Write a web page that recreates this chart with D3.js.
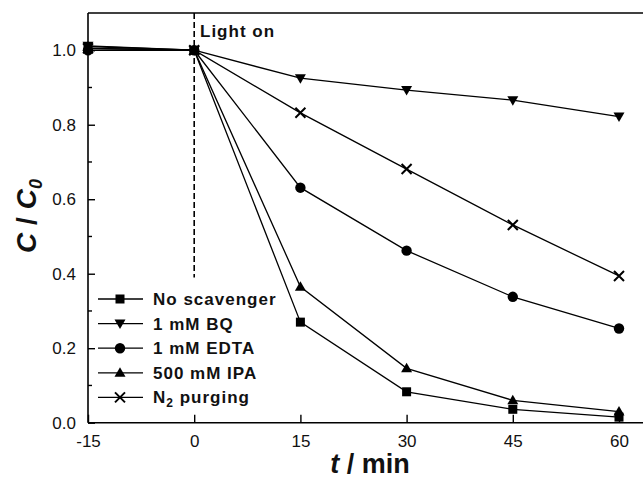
<!DOCTYPE html>
<html><head><meta charset="utf-8">
<script src="https://cdn.jsdelivr.net/npm/d3@7"></script>
<style>body{margin:0;background:#fff}svg{display:block}</style>
</head><body>
<svg id="c" width="643" height="479"></svg>
<script>
const times = [-15, 0, 15, 30, 45, 60];
const noScavenger = [1.005, 1.0, 0.27, 0.083, 0.036, 0.015];
const bq = [1.012, 1.0, 0.925, 0.893, 0.866, 0.822];
const edta = [1.0, 1.0, 0.631, 0.462, 0.338, 0.253];
const ipa = [1.01, 1.0, 0.365, 0.146, 0.06, 0.03];
const n2 = [1.005, 1.0, 0.832, 0.681, 0.531, 0.394];
const seriesNames = ["No scavenger", "1 mM BQ", "1 mM EDTA", "500 mM IPA", "N2 purging"];
const xTicks = [-15, 0, 15, 30, 45, 60];
const yTicks = [0.0, 0.2, 0.4, 0.6, 0.8, 1.0];
const yMinor = [0.1, 0.3, 0.5, 0.7, 0.9];

const series = [
  {name: seriesNames[0], values: noScavenger, sym: "square"},
  {name: seriesNames[1], values: bq, sym: "down"},
  {name: seriesNames[2], values: edta, sym: "circle"},
  {name: seriesNames[3], values: ipa, sym: "up"},
  {name: seriesNames[4], values: n2, sym: "cross"}
];

const svg = d3.select("#c");
const x = d3.scaleLinear().domain([-15, 60]).range([88, 619]);
const y = d3.scaleLinear().domain([0, 1.1]).range([422.7, 13]);
const L = 88, T = 13, B = 422.7, R = 660;
const font = "Arial, 'Liberation Sans', sans-serif";

// frame
svg.append("line").attr("x1", L).attr("x2", R).attr("y1", T).attr("y2", T).attr("stroke", "#000").attr("stroke-width", 1.6);

// dashed light-on line
svg.append("line").attr("x1", x(0)).attr("x2", x(0)).attr("y1", T).attr("y2", y(0.39))
  .attr("stroke", "#000").attr("stroke-width", 1.6).attr("stroke-dasharray", "6,3");

// axes
const yAxis = d3.axisLeft(y).tickValues(yTicks).tickFormat(d3.format(".1f")).tickSizeInner(-7).tickSizeOuter(0).tickPadding(12);
const gy = svg.append("g").attr("transform", `translate(${L},0)`).call(yAxis);
gy.select(".domain").attr("stroke-width", 1.6).attr("d", `M0,${T}V${B}`);
gy.selectAll(".tick line").attr("stroke-width", 1.4);
gy.selectAll("text").attr("font-family", font).attr("font-size", 17).attr("fill", "#111");
gy.selectAll(".minor").data(yMinor).enter().append("line")
  .attr("x1", 0).attr("x2", 4).attr("y1", d => y(d)).attr("y2", d => y(d)).attr("stroke", "#000").attr("stroke-width", 1.4);

const xAxis = d3.axisBottom(x).tickValues(xTicks).tickFormat(d => String(d)).tickSizeInner(-8).tickSizeOuter(0).tickPadding(12);
const gx = svg.append("g").attr("transform", `translate(0,${B})`).call(xAxis);
gx.select(".domain").attr("stroke-width", 1.6).attr("d", `M${L},0H${R}`);
gx.selectAll(".tick line").attr("stroke-width", 1.4);
gx.selectAll("text").attr("font-family", font).attr("font-size", 17).attr("fill", "#111");

// symbols
function drawSym(g, sym, cx, cy) {
  if (sym === "square") {
    g.append("rect").attr("x", cx - 4.5).attr("y", cy - 4.5).attr("width", 9).attr("height", 9).attr("fill", "#000");
  } else if (sym === "circle") {
    g.append("circle").attr("cx", cx).attr("cy", cy).attr("r", 5.2).attr("fill", "#000");
  } else if (sym === "down") {
    g.append("path").attr("d", `M${cx-5.5},${cy-4}L${cx+5.5},${cy-4}L${cx},${cy+5.5}Z`).attr("fill", "#000");
  } else if (sym === "up") {
    g.append("path").attr("d", `M${cx-5.5},${cy+4}L${cx+5.5},${cy+4}L${cx},${cy-5.5}Z`).attr("fill", "#000");
  } else if (sym === "cross") {
    g.append("path").attr("d", `M${cx-5},${cy-5}L${cx+5},${cy+5}M${cx-5},${cy+5}L${cx+5},${cy-5}`).attr("stroke", "#000").attr("stroke-width", 2);
  }
}

const line = d3.line().x((d, i) => x(times[i])).y(d => y(d));
series.forEach(s => {
  svg.append("path").attr("d", line(s.values)).attr("fill", "none").attr("stroke", "#000").attr("stroke-width", 1.3);
});
series.slice().reverse().forEach(s => {
  const g = svg.append("g");
  s.values.forEach((v, i) => drawSym(g, s.sym, x(times[i]), y(v)));
});

// legend
const legY0 = 299, legDy = 24.6;
series.forEach((s, i) => {
  const ly = legY0 + i * legDy;
  svg.append("line").attr("x1", 98).attr("x2", 143).attr("y1", ly).attr("y2", ly).attr("stroke", "#000").attr("stroke-width", 1.3);
  drawSym(svg.append("g"), s.sym, 120, ly);
  const t = svg.append("text").attr("x", 153).attr("y", ly + 6).attr("font-family", font)
    .attr("font-weight", "bold").attr("font-size", 17).attr("letter-spacing", 1).attr("fill", "#111");
  if (s.name === "N2 purging") {
    t.append("tspan").text("N");
    t.append("tspan").attr("font-size", 12).attr("dy", 4).text("2");
    t.append("tspan").attr("dy", -4).text(" purging");
  } else {
    t.text(s.name);
  }
});

// Light on label
svg.append("text").attr("x", 200).attr("y", 37).attr("font-family", font).attr("font-weight", "bold")
  .attr("font-size", 17).attr("letter-spacing", 1).attr("fill", "#111").text("Light on");

// axis titles
const xt = svg.append("text").attr("x", 370).attr("y", 473).attr("text-anchor", "middle")
  .attr("font-family", font).attr("font-weight", "bold").attr("font-size", 27).attr("fill", "#111");
xt.append("tspan").attr("font-style", "italic").text("t");
xt.append("tspan").text(" / min");

const yt = svg.append("text").attr("transform", "translate(36,216) rotate(-90)").attr("text-anchor", "middle")
  .attr("font-family", font).attr("font-weight", "bold").attr("font-size", 28).attr("fill", "#111");
yt.append("tspan").attr("font-style", "italic").text("C");
yt.append("tspan").text(" / ");
yt.append("tspan").attr("font-style", "italic").text("C");
yt.append("tspan").attr("font-size", 18).attr("font-style", "italic").attr("dy", 6).text("0");
</script>
</body></html>
